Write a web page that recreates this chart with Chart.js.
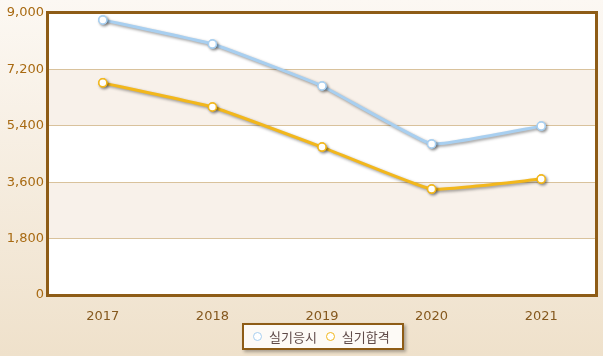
<!DOCTYPE html>
<html><head><meta charset="utf-8">
<script src="https://cdn.jsdelivr.net/npm/chart.js@4/dist/chart.umd.min.js"></script>
<style>
html,body{margin:0;padding:0;}
#wrap{position:relative;width:603px;height:356px;}
#legend{position:absolute;left:242px;top:323px;width:158px;height:23px;border:2px solid #8e5c16;background:#fdfaf6;
  box-shadow:2px 2px 3px rgba(0,0,0,0.3);font-family:'Noto Sans CJK KR','DejaVu Sans',sans-serif;font-size:13px;color:#5f4a48;
  display:flex;align-items:center;}
.it{display:flex;align-items:center;}
.mk{display:inline-block;width:7px;height:7px;border-radius:50%;border:1.5px solid;background:#fff;margin:0 7px 0 9px;}
</style>
</head><body><div id="wrap"><canvas id="c" width="603" height="356"></canvas><div id="legend"></div></div>
<script>
const categories = ['2017','2018','2019','2020','2021'];
const applied = [8780, 8010, 6670, 4820, 5390];
const passed = [6770, 6000, 4720, 3380, 3700];
const yTicks = [0, 1800, 3600, 5400, 7200, 9000];
const seriesNames = ['실기응시','실기합격'];
const seriesColors = ['#a8cff0','#f2b71c'];

const bgPlugin = {
  id:'bg',
  beforeDraw(chart){
    const {ctx, chartArea:a, scales:{y}} = chart;
    const g = ctx.createLinearGradient(0,0,0,chart.height);
    g.addColorStop(0,'#fcf8f3'); g.addColorStop(1,'#efe1cb');
    ctx.save(); ctx.fillStyle=g; ctx.fillRect(0,0,chart.width,chart.height);
    for(let i=0;i<yTicks.length-1;i++){
      const y0=y.getPixelForValue(yTicks[i]), y1=y.getPixelForValue(yTicks[i+1]);
      ctx.fillStyle = (i%2===0)?'#ffffff':'#f8f1ea';
      ctx.fillRect(a.left,y1,a.right-a.left,y0-y1);
    }
    ctx.restore();
  },
  beforeDatasetDraw(chart){
    const ctx=chart.ctx; ctx.save();
    ctx.shadowColor='rgba(0,0,0,0.4)'; ctx.shadowOffsetX=1.5; ctx.shadowOffsetY=1.5; ctx.shadowBlur=3;
  },
  afterDatasetDraw(chart,args){
    const ctx=chart.ctx; ctx.restore();
    args.meta.data.forEach(p=>p.draw(ctx,chart.chartArea));
  },
  afterDraw(chart){
    const {ctx, chartArea:a} = chart;
    ctx.save();
    ctx.strokeStyle='#8e5c16'; ctx.lineWidth=3;
    ctx.strokeRect(a.left-0.5,a.top-0.5,a.right-a.left+1,a.bottom-a.top+1);
    ctx.restore();
  }
};

const chart = new Chart(document.getElementById('c'),{
  type:'line',
  data:{labels:categories,datasets:[
    {label:seriesNames[0],data:applied,borderColor:seriesColors[0],backgroundColor:'#ffffff',borderWidth:3,
     pointRadius:4,pointBorderWidth:1.5,pointBorderColor:seriesColors[0],pointBackgroundColor:'#ffffff',tension:0.1},
    {label:seriesNames[1],data:passed,borderColor:seriesColors[1],backgroundColor:'#ffffff',borderWidth:3,
     pointRadius:4,pointBorderWidth:1.5,pointBorderColor:seriesColors[1],pointBackgroundColor:'#ffffff',tension:0.1}
  ]},
  options:{
    responsive:false,animation:false,
    layout:{padding:{left:4,right:7,top:13,bottom:33}},
    plugins:{legend:{display:false},tooltip:{enabled:false}},
    scales:{
      x:{offset:true,grid:{display:false},border:{display:false},
        ticks:{color:'#85581e',font:{family:"'DejaVu Sans',sans-serif",size:13},padding:6},
        afterFit(s){s.height=28;}},
      y:{min:0,max:9000,border:{display:false},
        afterBuildTicks(s){s.ticks=yTicks.map(v=>({value:v}));},
        afterFit(s){s.width=44;},
        grid:{color:'#d9c29c',lineWidth:1,drawTicks:false},
        ticks:{color:'#a86a12',padding:4,font:{family:"'DejaVu Sans',sans-serif",size:13},
          callback:v=>v.toLocaleString('en-US')}}
    }
  },
  plugins:[bgPlugin]
});

const lg=document.getElementById('legend');
chart.data.datasets.forEach((d,i)=>{
  const it=document.createElement('span'); it.className='it';
  const mk=document.createElement('span'); mk.className='mk'; mk.style.borderColor=d.borderColor;
  it.appendChild(mk); it.appendChild(document.createTextNode(d.label)); lg.appendChild(it);
});
</script></body></html>
